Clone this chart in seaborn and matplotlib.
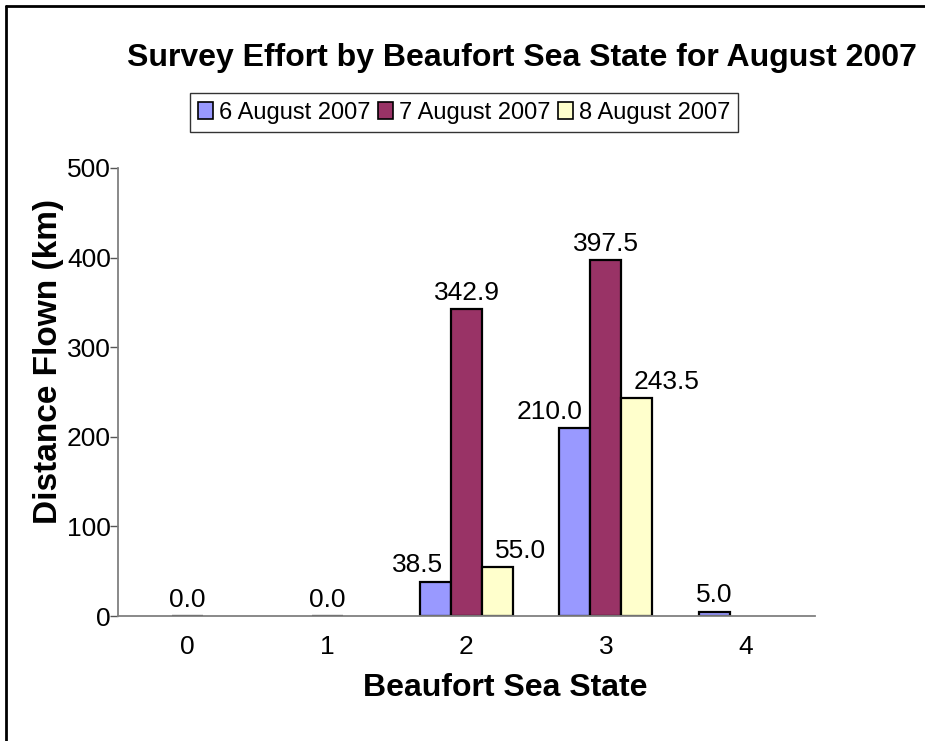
import matplotlib
matplotlib.use("Agg")
import matplotlib.pyplot as plt
from matplotlib.lines import Line2D
from matplotlib.patches import Patch
import numpy as np
import pandas as pd
import seaborn as sns

# Survey effort data (km flown) per Beaufort sea state
sea_states = ["0", "1", "2", "3", "4"]
series_names = ["6 August 2007", "7 August 2007", "8 August 2007"]
aug06 = [np.nan, np.nan, 38.5, 210.0, 5.0]
aug07 = [0.0, 0.0, 342.9, 397.5, np.nan]
aug08 = [np.nan, np.nan, 55.0, 243.5, np.nan]
colors = ["#9999FF", "#993366", "#FFFFCC"]

y_ticks = [0, 100, 200, 300, 400, 500]

series_values = [aug06, aug07, aug08]
rows = []
for name, vals in zip(series_names, series_values):
    for state, v in zip(sea_states, vals):
        rows.append({"state": state, "series": name, "km": v})
df = pd.DataFrame(rows)

sns.set_theme(style="white")
plt.rcParams["font.family"] = ["Liberation Sans", "DejaVu Sans"]
plt.rcParams["text.color"] = "black"
plt.rcParams["axes.labelcolor"] = "black"
plt.rcParams["xtick.labelcolor"] = "black"
plt.rcParams["ytick.labelcolor"] = "black"

fig = plt.figure(figsize=(9.25, 7.41), dpi=100)
ax = fig.add_axes([118 / 925, 1 - 616 / 741, (815 - 118) / 925, (616 - 168) / 741])

sns.barplot(data=df.dropna(), x="state", y="km", hue="series",
            order=sea_states, hue_order=series_names,
            palette=colors, width=2 / 3, gap=0,
            edgecolor="black", linewidth=1.6, errorbar=None,
            legend=False, ax=ax, saturation=1)

# Value labels; side bars next to a middle bar get pushed outward
middle_present = [not np.isnan(v) for v in aug07]
for s_idx, cont in enumerate(ax.containers):
    for bar in cont:
        h = bar.get_height()
        xc = bar.get_x() + bar.get_width() / 2
        cat = int(round(xc))
        x, ha, dx = xc, "center", 0
        if middle_present[cat] and s_idx == 0:
            x, ha, dx = bar.get_x() + bar.get_width(), "right", -6
        elif middle_present[cat] and s_idx == 2:
            x, ha, dx = bar.get_x(), "left", 9
        ax.annotate(f"{h:.1f}", (x, h), xytext=(dx, 3), textcoords="offset points",
                    ha=ha, va="bottom", fontsize=19, color="black")

ax.set_xlim(-0.5, len(sea_states) - 0.5)
ax.set_ylim(0, 500)
ax.set_yticks(y_ticks)
ax.set_yticklabels([str(t) for t in y_ticks], fontsize=19)
ax.set_xticks(range(len(sea_states)))
ax.set_xticklabels(sea_states, fontsize=19)
ax.tick_params(axis="x", which="major", length=0, pad=14)
ax.set_xticks(np.arange(-0.5, len(sea_states), 1.0), minor=True)
ax.tick_params(axis="x", which="minor", length=5.5, width=1, color="#555555", direction="out")
ax.tick_params(axis="y", which="major", length=6, width=1, color="#555555",
               direction="out", pad=-1, left=True)
for side in ["top", "right"]:
    ax.spines[side].set_visible(False)
for side in ["left", "bottom"]:
    ax.spines[side].set_color("#808080")
    ax.spines[side].set_linewidth(1.3)
ax.set_xlabel("")
ax.set_ylabel("")
ax.grid(False)

fig.text(522 / 925, 1 - 58 / 741, "Survey Effort by Beaufort Sea State for August 2007",
         ha="center", va="center", fontsize=23, fontweight="bold")
fig.text(505 / 925, 1 - 688 / 741, "Beaufort Sea State",
         ha="center", va="center", fontsize=23, fontweight="bold")
fig.text(49 / 925, 1 - 361 / 741, "Distance Flown (km)", rotation=90,
         ha="center", va="center", fontsize=24, fontweight="bold")

handles = [Patch(facecolor=c, edgecolor="black", linewidth=1.2) for c in colors]
leg = fig.legend(handles, series_names, loc="center", bbox_to_anchor=(464 / 925, 1 - 112.5 / 741),
                 ncol=3, fontsize=17, frameon=True, fancybox=False,
                 handlelength=0.65, handleheight=0.75, handletextpad=0.25,
                 columnspacing=0.3, borderpad=0.35, borderaxespad=0)
leg.get_frame().set_edgecolor("black")
leg.get_frame().set_linewidth(1.0)

# outer chart border
fig.add_artist(Line2D([6 / 925, 6 / 925], [0, 1 - 6 / 741], color="black", lw=2,
                      transform=fig.transFigure))
fig.add_artist(Line2D([6 / 925, 1], [1 - 6 / 741, 1 - 6 / 741], color="black", lw=2,
                      transform=fig.transFigure))

fig.savefig("out.png", dpi=100)
